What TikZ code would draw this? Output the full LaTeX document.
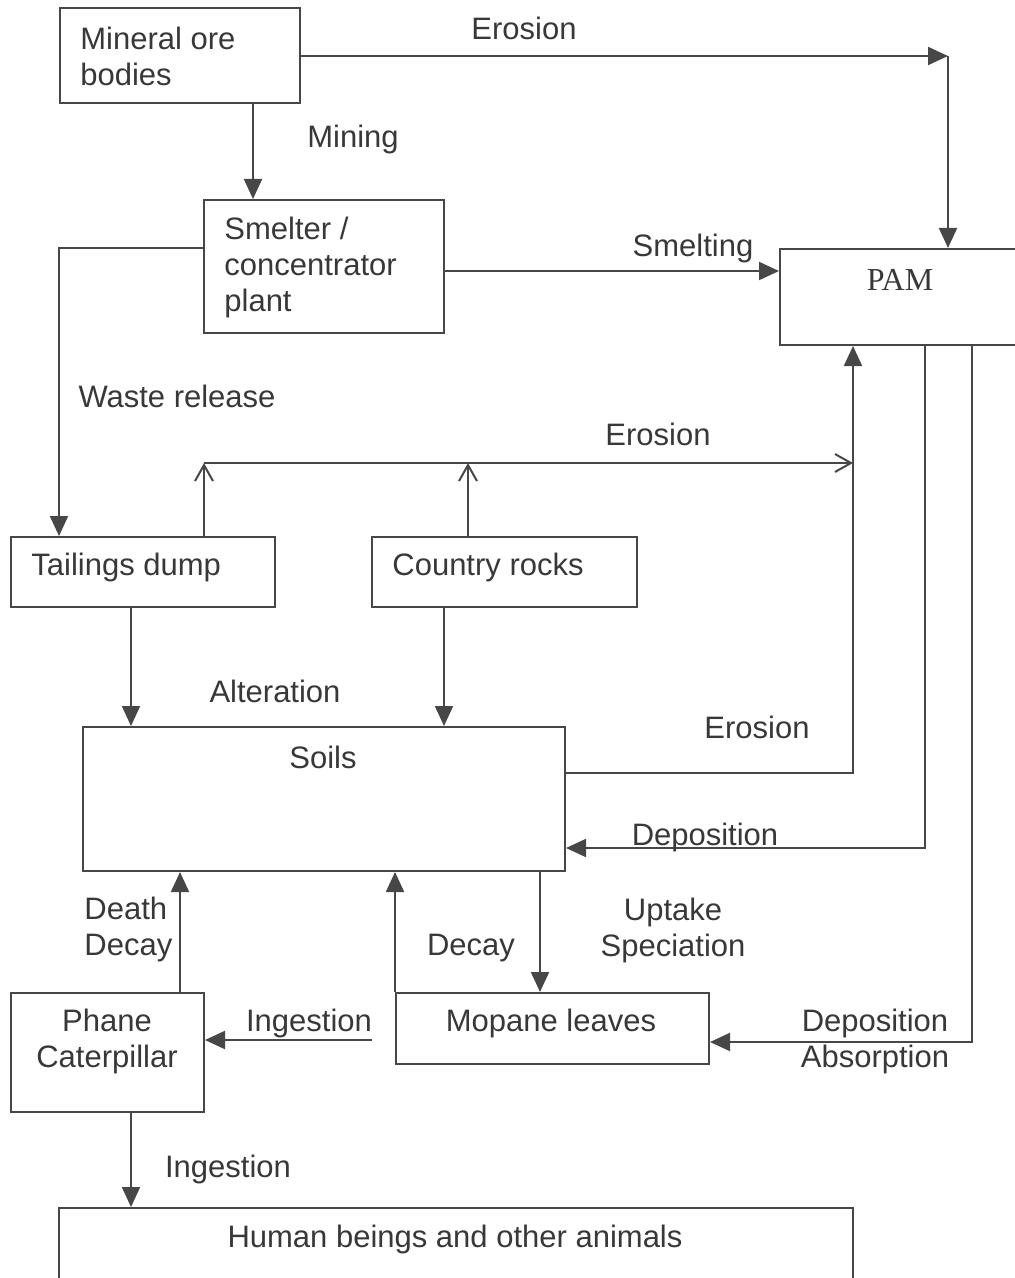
\documentclass[tikz,border=0pt]{standalone}
\usepackage{fontspec}
\setmainfont{Liberation Sans}
\newfontfamily\pamfont{Liberation Serif}
\usetikzlibrary{arrows.meta,fit}

\definecolor{ink}{HTML}{474747}
\definecolor{txtgray}{HTML}{383838}

\tikzset{
  box/.style={draw=ink,line width=1pt,inner sep=0pt},
  txt/.style={text=txtgray,font=\fontsize{15.5}{18}\selectfont,inner sep=0pt,align=center},
  flow/.style={draw=ink,line width=1pt,-{Triangle[length=10pt,width=9pt]}},
  openflow/.style={draw=ink,line width=1pt,-{Straight Barb[length=8pt,width=9pt]}},
}

\begin{document}
\begin{tikzpicture}[x=0.5pt,y=-0.5pt]
  \useasboundingbox (0,0) rectangle (1015,1278);
  \clip (0,0) rectangle (1015,1278);

  % boxes
  \node[box,fit={(60,8) (300,103)}]      (ore)      {};
  \node[box,fit={(204,200) (444,333)}]   (smelter)  {};
  \node[box,fit={(780,249) (1030,345)}]  (pam)      {};
  \node[box,fit={(11,537) (275,607)}]    (tailings) {};
  \node[box,fit={(372,537) (637,607)}]   (country)  {};
  \node[box,fit={(83,727) (565,871)}]    (soils)    {};
  \node[box,fit={(11,993) (204,1112)}]   (phane)    {};
  \node[box,fit={(396,993) (709,1064)}]  (mopane)   {};
  \node[box,fit={(59,1208) (853,1295)}]  (human)    {};

  % box texts
  \node[txt,anchor=west,align=left] (oretext)      at (80,56)   {Mineral ore\\bodies};
  \node[txt,anchor=west,align=left] (smeltertext)  at (224,267) {Smelter /\\concentrator\\plant};
  \node[txt,font=\pamfont\fontsize{16}{18}\selectfont] (pamtext) at (900,280) {PAM};
  \node[txt,anchor=west] (tailingstext) at (31,567)  {Tailings dump};
  \node[txt,anchor=west] (countrytext)  at (392,567) {Country rocks};
  \node[txt] (soilstext)  at (323,757)  {Soils};
  \node[txt] (phanetext)  at (107,1041) {Phane\\Caterpillar};
  \node[txt] (mopanetext) at (551,1023) {Mopane leaves};
  \node[txt] (humantext)  at (455,1239) {Human beings and other animals};

  % free ends and corners
  \coordinate (topturn) at (948,56);
  \coordinate (tailup)  at (204,463);
  \coordinate (rockup)  at (468,463);
  \coordinate (midend)  at (853,463);
  \coordinate (ingest)  at (372,1040);

  % connectors
  \draw[flow] (ore.east |- topturn) -- (topturn);
  \draw[flow] (topturn) -- (pam.north -| topturn);
  \draw[flow] (ore.south -| 253,0) -- (smelter.north -| 253,0);
  \draw[flow] (smelter.east |- 0,271) -- (pam.west |- 0,271);
  \draw[flow] (smelter.west |- 0,248) -| (tailings.north -| 59,0);

  \draw[openflow] (tailings.north -| tailup) -- (tailup);
  \draw[openflow] (country.north -| rockup) -- (rockup);
  \draw[openflow] (tailup) -- (midend);

  \draw[flow] (soils.east |- 0,773) -| (pam.south -| 853,0);
  \draw[flow] (pam.south -| 925,0) |- (soils.east |- 0,848);
  \draw[flow] (pam.south -| 972,0) |- (mopane.east |- 0,1042);

  \draw[flow] (tailings.south -| 131,0) -- (soils.north -| 131,0);
  \draw[flow] (country.south -| 444,0) -- (soils.north -| 444,0);
  \draw[flow] (phane.north -| 180,0) -- (soils.south -| 180,0);
  \draw[flow] (mopane.north west) -- (soils.south -| mopane.west);
  \draw[flow] (soils.south -| 540,0) -- (mopane.north -| 540,0);
  \draw[flow] (ingest) -- (phane.east |- ingest);
  \draw[flow] (phane.south -| 131,0) -- (human.north -| 131,0);

  % process labels
  \node[txt] (erosiontop)  at (524,28)   {Erosion};
  \node[txt] (mining)      at (353,139)  {Mining};
  \node[txt] (smelting)    at (693,248)  {Smelting};
  \node[txt] (waste)       at (177,396)  {Waste release};
  \node[txt] (erosionmid)  at (658,434)  {Erosion};
  \node[txt] (alteration)  at (275,691)  {Alteration};
  \node[txt] (erosionsoil) at (757,727)  {Erosion};
  \node[txt] (depsoil)     at (705,837)  {Deposition};
  \node[txt,anchor=west,align=left] (death) at (84,929) {Death\\Decay};
  \node[txt] (decay)       at (471,948)  {Decay};
  \node[txt] (uptake)      at (673,930)  {Uptake\\Speciation};
  \node[txt] (ingestleft)  at (309,1023) {Ingestion};
  \node[txt] (depleaf)     at (875,1041) {Deposition\\Absorption};
  \node[txt] (ingestdown)  at (228,1169) {Ingestion};
\end{tikzpicture}
\end{document}
